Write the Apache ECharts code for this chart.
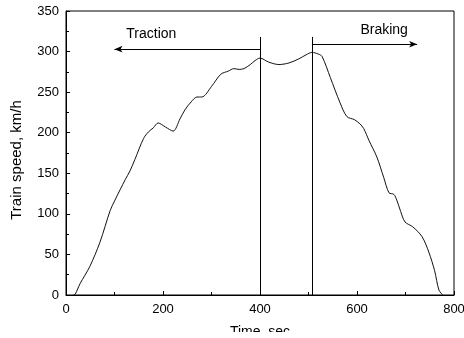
<!DOCTYPE html>
<html><head><meta charset="utf-8">
<script src="https://cdn.jsdelivr.net/npm/echarts@6/dist/echarts.min.js"></script>
<style>html,body{margin:0;padding:0;background:#fff}#c{width:464px;height:338px}</style>
</head><body><div id="c"></div>
<script>
var timeSec = [15,19,29,49,70,91,101,122,132,142,160,170,180,190,205,221,235,245,258,270,280,300,319,335,346,357,367,380,390,400,418,439,460,480,495,507,520,528,545,565,579,595,606,614,625,641,655,666,676,682,690,699,715,734,748,760,769,777];
var speedKmh = [0,1,14,35,65,104,117,142,153,167,193,201,206,212,207,202,217,228,238,244,244,257,272,276,279,278,279,284,289,292,287,284,286,291,296,299,297,294,268,237,220,216,211,205,190,170,145,126,124,117,103,90,84,72,53,30,6,0];
var xTicks = [0,200,400,600,800];
var yTicks = [0,50,100,150,200,250,300,350];
var tractionTime = 400, brakingTime = 507, markerTop = 318;
var tractionArrow = [[400,303],[100,303]];
var brakingArrow = [[507,309],[724,309]];
var labels = [{name:'Traction', coord:[176,322]},{name:'Braking', coord:[656,326]}];

var font = 'Liberation Sans, Arial, sans-serif';
var chart = echarts.init(document.getElementById('c'));
chart.setOption({
  animation:false,
  grid:{left:66,right:10,top:11,bottom:43,show:true,borderColor:'#000',borderWidth:1,outerBoundsMode:'none',containLabel:false},
  graphic:[{type:'rect',left:0,top:332,z:100,silent:true,shape:{width:464,height:6},style:{fill:'#fff'}}],
  xAxis:{type:'value',min:0,max:800,interval:200,
    name:'Time, sec',nameLocation:'middle',nameGap:30,
    nameTextStyle:{fontFamily:font,fontSize:14,color:'#000'},
    axisLine:{lineStyle:{color:'#000'}},
    axisTick:{inside:true,length:4,lineStyle:{color:'#000'}},
    minorTick:{show:true,splitNumber:2,length:3,lineStyle:{color:'#000'}},
    axisLabel:{fontFamily:font,fontSize:13,color:'#000',margin:8},
    splitLine:{show:false}},
  yAxis:{type:'value',min:0,max:350,interval:50,
    name:'Train speed, km/h',nameLocation:'middle',nameGap:42,
    nameTextStyle:{fontFamily:font,fontSize:15,color:'#000',padding:[0,14,0,0]},
    axisLine:{show:true,lineStyle:{color:'#000'}},
    axisTick:{show:true,inside:true,length:4,lineStyle:{color:'#000'}},
    minorTick:{show:true,splitNumber:2,length:3,lineStyle:{color:'#000'}},
    axisLabel:{fontFamily:font,fontSize:13,color:'#000',margin:7},
    splitLine:{show:false}},
  series:[{
    type:'line',symbol:'none',smooth:0.3,
    data:timeSec.map(function(t,i){return [t,speedKmh[i]];}),
    lineStyle:{color:'#111',width:1},
    markLine:{silent:true,symbol:['none','none'],label:{show:false},
      lineStyle:{color:'#000',width:1,type:'solid'},
      data:[
        [{coord:[tractionTime,0]},{coord:[tractionTime,markerTop]}],
        [{coord:[brakingTime,0]},{coord:[brakingTime,markerTop]}],
        [{coord:tractionArrow[0],symbol:'none'},{coord:tractionArrow[1],symbol:'arrow',symbolSize:[5,8]}],
        [{coord:brakingArrow[0],symbol:'none'},{coord:brakingArrow[1],symbol:'arrow',symbolSize:[5,8]}]
      ]},
    markPoint:{silent:true,symbol:'circle',symbolSize:0,
      label:{show:true,formatter:'{b}',fontFamily:font,fontSize:14,color:'#000',position:'inside'},
      data:labels}
  }]
});
</script></body></html>
